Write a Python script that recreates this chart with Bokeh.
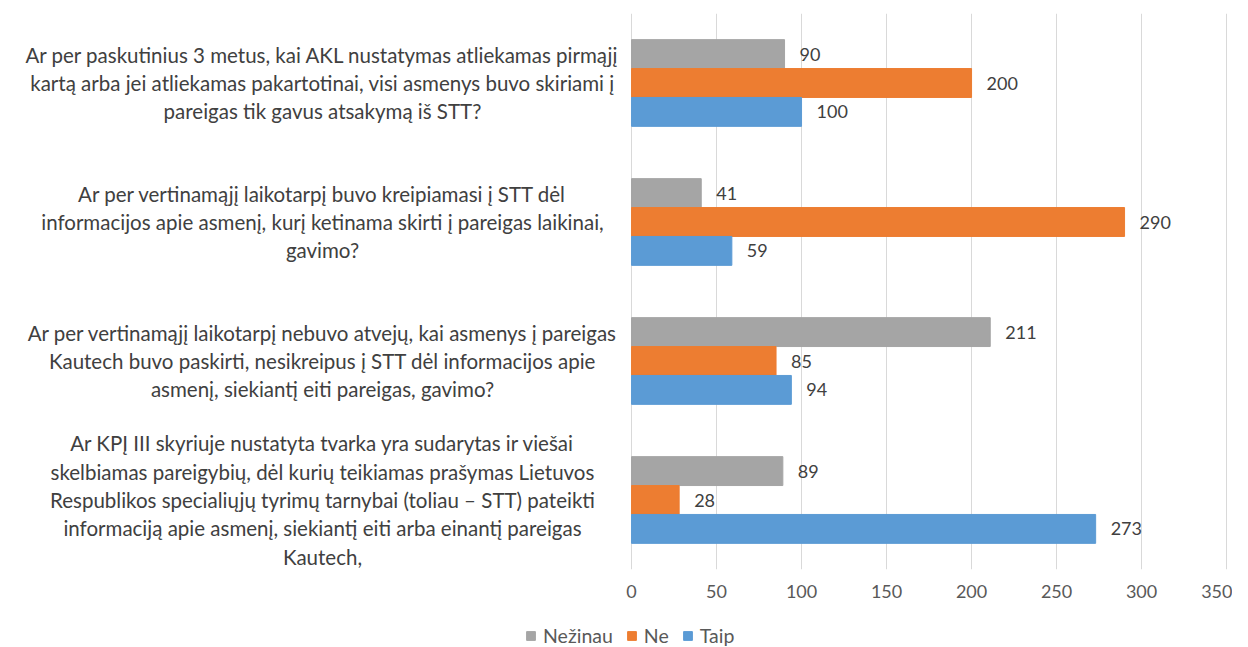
from bokeh.plotting import figure
from bokeh.layouts import column
from bokeh.models import ColumnDataSource, Legend, LegendItem, Range1d, FactorRange
from bokeh.transform import dodge
from bokeh.core.properties import value
from bokeh.embed import file_html
from bokeh.resources import INLINE

# Data (bottom category first, as in the reference)
categories = [
    "Ar KPĮ III skyriuje nustatyta tvarka yra sudarytas ir viešai\nskelbiamas pareigybių, dėl kurių teikiamas prašymas Lietuvos\nRespublikos specialiųjų tyrimų tarnybai (toliau – STT) pateikti\ninformaciją apie asmenį, siekiantį eiti arba einantį pareigas\nKautech,",
    "Ar per vertinamąjį laikotarpį nebuvo atvejų, kai asmenys į pareigas\nKautech buvo paskirti, nesikreipus į STT dėl informacijos apie\nasmenį, siekiantį eiti pareigas, gavimo?",
    "Ar per vertinamąjį laikotarpį buvo kreipiamasi į STT dėl\ninformacijos apie asmenį, kurį ketinama skirti į pareigas laikinai,\ngavimo?",
    "Ar per paskutinius 3 metus, kai AKL nustatymas atliekamas pirmąjį\nkartą arba jei atliekamas pakartotinai, visi asmenys buvo skiriami į\npareigas tik gavus atsakymą iš STT?",
]
cat_keys = ["q4", "q3", "q2", "q1"]
nezinau = [89, 211, 41, 90]
ne = [28, 85, 290, 200]
taip = [273, 94, 59, 100]
series_names = ["Nežinau", "Ne", "Taip"]
x_ticks = [0, 50, 100, 150, 200, 250, 300, 350]

colors = {"Nežinau": "#A5A5A5", "Ne": "#ED7D31", "Taip": "#5B9BD5"}
offsets = {"Nežinau": 0.208, "Ne": 0.0, "Taip": -0.208}

src = ColumnDataSource(dict(
    cat=cat_keys, label=categories,
    Nežinau=nezinau, Ne=ne, Taip=taip,
    Nežinau_t=[str(v) for v in nezinau],
    Ne_t=[str(v) for v in ne],
    Taip_t=[str(v) for v in taip],
))

FONT = "Lato"

p = figure(
    width=1232, height=622,
    y_range=FactorRange(*cat_keys, range_padding=0),
    x_range=Range1d(-371.2, 353.5),
    output_backend="svg", toolbar_location=None,
    min_border_left=0, min_border_right=0, min_border_top=13, min_border_bottom=53,
)
p.outline_line_color = None
p.yaxis.visible = False
p.ygrid.grid_line_color = None
p.xgrid.grid_line_color = "#D9D9D9"
p.xgrid.grid_line_width = 1
p.xgrid.bounds = (0, 350)
p.xgrid.ticker = x_ticks
p.xaxis.ticker = x_ticks
p.xaxis.bounds = (0, 350)
p.xaxis.axis_line_color = None
p.xaxis.major_tick_line_color = None
p.xaxis.minor_tick_line_color = None
p.xaxis.major_label_standoff = 9
p.xaxis.major_label_text_font = FONT
p.xaxis.major_label_text_font_size = "18px"
p.xaxis.major_label_text_color = "#595959"

for name in series_names:
    p.hbar(y=dodge("cat", offsets[name], range=p.y_range), right=name, left=0,
           height=0.208, source=src, color=colors[name], line_color=colors[name])
    p.text(x=name, y=dodge("cat", offsets[name], range=p.y_range), text=name + "_t",
           source=src, x_offset=15, text_align="left", text_baseline="middle",
           text_font=value(FONT), text_font_size="18px", text_color="#404040")

# Category labels (left side)
p.text(x=-181.8, y="cat", text="label", source=src, text_align="center",
       text_baseline="middle", text_font=value(FONT), text_font_size="20.5px",
       text_color="#404040", text_line_height=1.18)

# Legend strip below the chart (its bars lie outside the strip's visible range)
lp = figure(width=1232, height=25, x_range=Range1d(-1000, -900),
            y_range=FactorRange(*cat_keys),
            output_backend="svg", toolbar_location=None,
            min_border_left=0, min_border_right=0, min_border_top=0, min_border_bottom=0)
lp.axis.visible = False
lp.grid.visible = False
lp.outline_line_color = None
items = []
for name in series_names:
    r = lp.hbar(y="cat", right=name, left=0, height=0.2, source=src, color=colors[name])
    items.append(LegendItem(label=name, renderers=[r]))
legend = Legend(items=items, orientation="horizontal", location=(525, 0),
                label_text_font=FONT, label_text_font_size="19.5px",
                label_text_color="#595959", border_line_color=None,
                background_fill_alpha=0, label_height=20,
                glyph_width=11, glyph_height=11, spacing=13, padding=2, margin=0,
                label_standoff=7)
lp.add_layout(legend, "center")

layout = column(p, lp, spacing=0)
open("out.html", "w").write(file_html(layout, INLINE))
